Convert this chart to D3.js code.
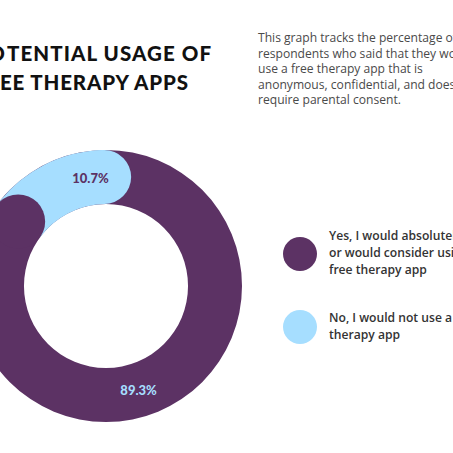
<!DOCTYPE html>
<html>
<head>
<meta charset="utf-8">
<script src="https://cdn.jsdelivr.net/npm/d3@7"></script>
<style>
  html, body { margin: 0; padding: 0; background: #fff; }
  svg { display: block; }
</style>
</head>
<body>
<svg id="chart" width="453" height="453"></svg>
<script>
// ---- data ----
const titleLines = ["POTENTIAL USAGE OF", "FREE THERAPY APPS"];
const descLines = [
  "This graph tracks the percentage of",
  "respondents who said that they would",
  "use a free therapy app that is",
  "anonymous, confidential, and does not",
  "require parental consent."
];
const categories = ["No, I would not use a free therapy app", "Yes, I would absolutely or would consider using a free therapy app"];
const values = [10.7, 89.3];
const valueLabels = ["10.7%", "89.3%"];
const legendOrder = [1, 0];
const legendLines = [
  ["Yes, I would absolutely", "or would consider using a", "free therapy app"],
  ["No, I would not use a free", "therapy app"]
];
const colors = ["#A6DEFF", "#5C3264"];
const labelColors = ["#5C3264", "#A6DEFF"];

// ---- helpers ----
const svg = d3.select("#chart");
function applyAttrs(sel, attrs) {
  Object.entries(attrs).forEach(([k, v]) => sel.attr(k, v));
  return sel;
}
function measure(str, attrs) {
  const t = applyAttrs(svg.append("text").text(str), attrs);
  const w = t.node().getComputedTextLength();
  t.remove();
  return w;
}

// ---- donut ----
const cx = 106, cy = 286, rOuter = 136, rInner = 82;
const rMid = (rOuter + rInner) / 2, halfW = (rOuter - rInner) / 2;
const capAng = halfW / rMid;
const deg = Math.PI / 180;

const pie = d3.pie().sort(null).value(d => d).startAngle(-39.5 * deg).endAngle(320.5 * deg);
const arcs = pie(values);

const g = svg.append("g").attr("transform", `translate(${cx},${cy})`);

g.append("path")
  .attr("d", d3.arc().innerRadius(rInner).outerRadius(rOuter)({startAngle: 0, endAngle: 2 * Math.PI}))
  .attr("fill", colors[1]);

const b = arcs[0];
const capA = b.startAngle - capAng;
g.append("path")
  .attr("d", d3.arc().innerRadius(rInner).outerRadius(rOuter)({startAngle: capA, endAngle: b.endAngle}))
  .attr("fill", colors[0]);
g.append("circle")
  .attr("cx", rMid * Math.sin(b.endAngle))
  .attr("cy", -rMid * Math.cos(b.endAngle))
  .attr("r", halfW)
  .attr("fill", colors[0]);
g.append("circle")
  .attr("cx", rMid * Math.sin(capA))
  .attr("cy", -rMid * Math.cos(capA))
  .attr("r", halfW)
  .attr("fill", colors[1]);

const labelShift = [capAng * 0.85, capAng * 0.2];
arcs.forEach((a, i) => {
  const m = (a.startAngle + a.endAngle) / 2 + labelShift[i];
  g.append("text")
    .attr("x", rMid * Math.sin(m))
    .attr("y", -rMid * Math.cos(m))
    .attr("dy", "0.36em")
    .attr("text-anchor", "middle")
    .attr("font-family", "Lato, 'Open Sans', sans-serif")
    .attr("font-weight", 900)
    .attr("font-size", 13)
    .attr("fill", labelColors[i])
    .text(valueLabels[i]);
});

// ---- title (first letters fall off the left edge, as in the original) ----
const titleFont = {"font-family": "Lato, sans-serif", "font-weight": 900, "font-size": 20.5, "fill": "#111"};
const cutAt = [2, 2];
const titleSpan = [[7, 211], [0, 188]];
titleLines.forEach((t, i) => {
  const pre = t.slice(0, cutAt[i]);
  const vis = t.slice(cutAt[i]);
  const target = titleSpan[i][1] - titleSpan[i][0];
  const nat = measure(vis, titleFont);
  const ls = (target - nat) / (vis.length - 1);
  const y = 60.5 + i * 29.5;
  applyAttrs(svg.append("text"), titleFont)
    .attr("x", titleSpan[i][0] - ls).attr("y", y)
    .attr("text-anchor", "end")
    .attr("letter-spacing", ls)
    .text(pre);
  applyAttrs(svg.append("text"), titleFont)
    .attr("x", titleSpan[i][0]).attr("y", y)
    .attr("textLength", target)
    .attr("lengthAdjust", "spacing")
    .text(vis);
});

// ---- description ----
const descBase = {"font-family": "'Open Sans', sans-serif", "font-size": 12};
const descSize = 12 * 165 / measure(descLines[2], descBase);
descLines.forEach((t, i) => {
  svg.append("text")
    .attr("x", 258)
    .attr("y", 42 + i * 15.5)
    .attr("font-family", "'Open Sans', sans-serif")
    .attr("font-size", descSize)
    .attr("fill", "#4a4a4a")
    .text(t);
});

// ---- legend ----
const legBase = {"font-family": "'Open Sans', sans-serif", "font-weight": 600, "font-size": 12};
const legSize = 12 * 98 / measure(legendLines[0][2], legBase);
const legendY = [254, 327];
const legendTextY = [240, 321.7];
legendOrder.forEach((ci, k) => {
  svg.append("circle")
    .attr("cx", 300).attr("cy", legendY[k]).attr("r", 17)
    .attr("fill", colors[ci]);
  legendLines[k].forEach((t, j) => {
    svg.append("text")
      .attr("x", 329)
      .attr("y", legendTextY[k] + j * 17)
      .attr("font-family", "'Open Sans', sans-serif")
      .attr("font-weight", 600)
      .attr("font-size", legSize)
      .attr("fill", "#333")
      .text(t);
  });
});
</script>
</body>
</html>
